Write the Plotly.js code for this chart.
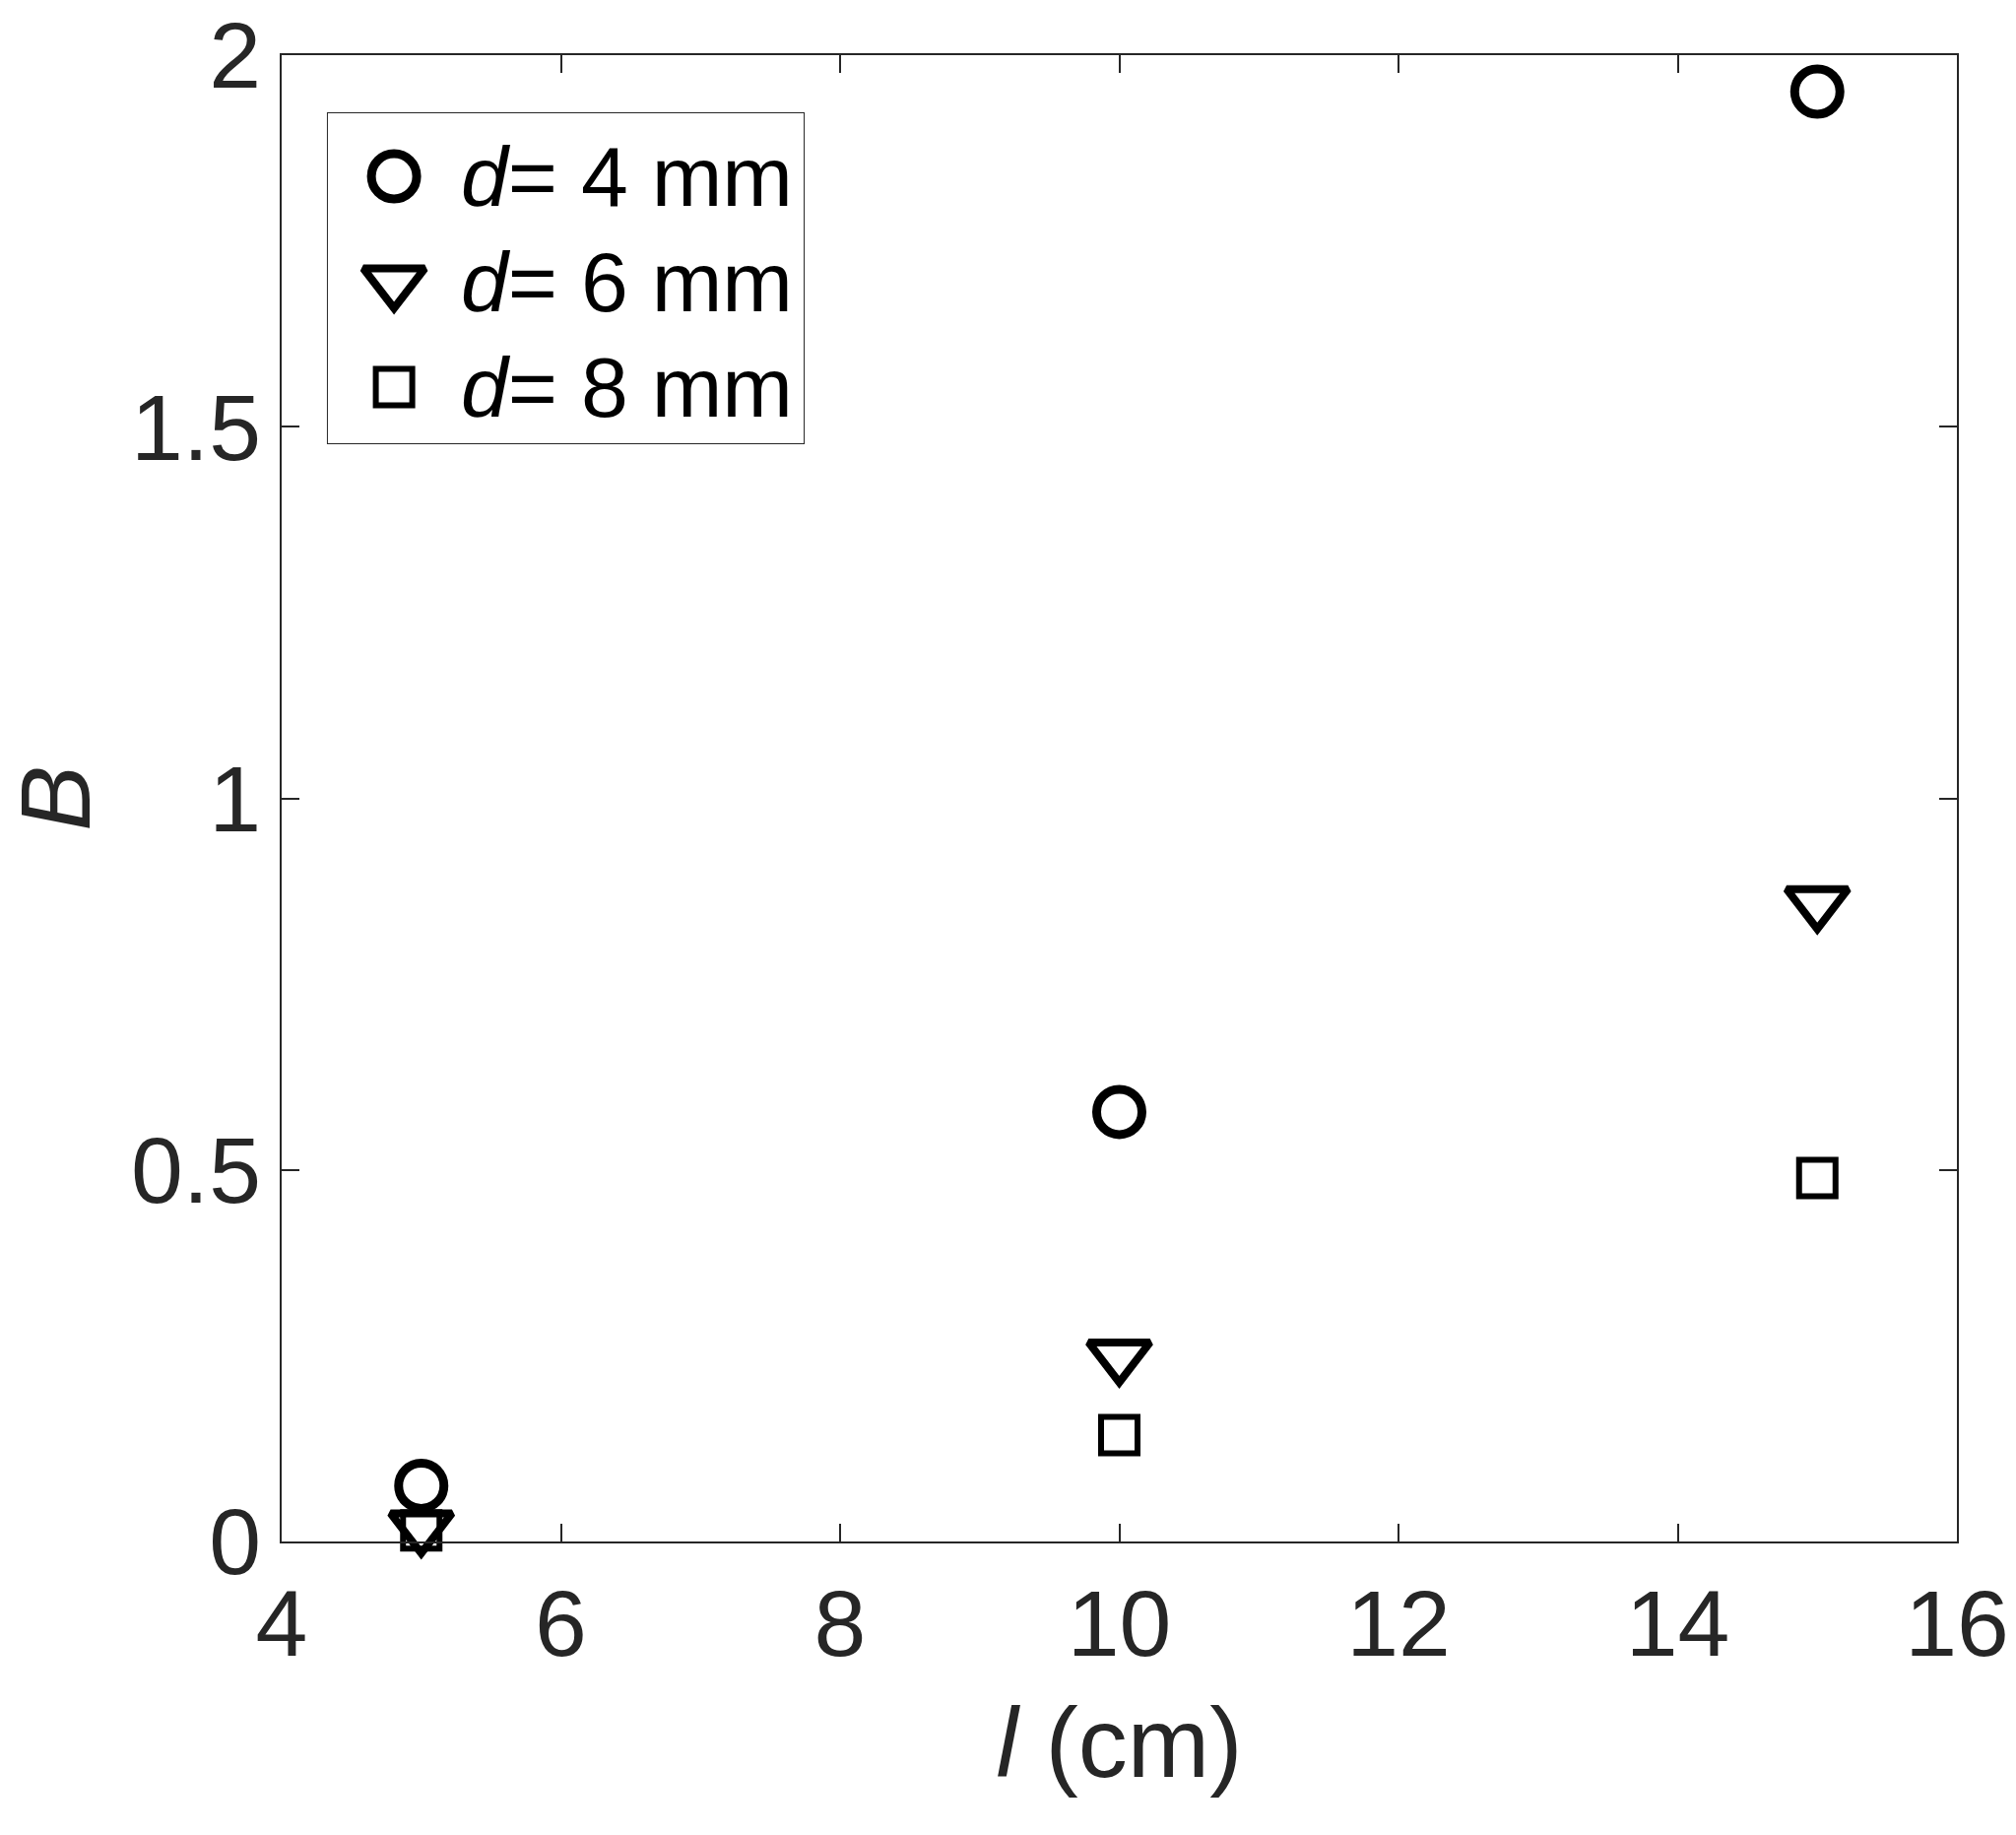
<!DOCTYPE html>
<html>
<head>
<meta charset="utf-8">
<script src="https://cdn.plot.ly/plotly-3.0.1.min.js"></script>
<style>
  html, body { margin: 0; padding: 0; background: #fff; }
  #plot { width: 2047px; height: 1863px; }
</style>
</head>
<body>
<div id="plot"></div>
<script>
// data
var lengths = [5, 10, 15];            // l (cm)
var bD4 = [0.075, 0.578, 1.951];      // d = 4 mm
var bD6 = [0.02, 0.25, 0.86];         // d = 6 mm
var bD8 = [0.015, 0.143, 0.489];      // d = 8 mm
var seriesNames = ["<i>d</i>= 4 mm", "<i>d</i>= 6 mm", "<i>d</i>= 8 mm"];
var seriesSymbols = ["circle-open", "triangle-down-open", "square-open"];
var xTicks = [4, 6, 8, 10, 12, 14, 16];
var yTicks = [0, 0.5, 1, 1.5, 2];

var ink = "#262626";
var font = "Liberation Sans, Arial, Helvetica, sans-serif";
var markerSizes = [46, 54, 37];
var markerLines = [9, 8, 6];

var ySets = [bD4, bD6, bD8];
var data = [];
for (var k = 0; k < ySets.length; k++) {
  data.push({
    x: lengths,
    y: ySets[k],
    type: "scatter",
    mode: "markers",
    name: seriesNames[k],
    showlegend: false,
    cliponaxis: false,
    marker: {
      symbol: seriesSymbols[k],
      size: markerSizes[k],
      color: "#000",
      line: { color: "#000", width: markerLines[k] }
    }
  });
}

// legend drawn on its own small axis so the symbols keep their real size
var legendRows = [0, 1, 2];
var annotations = [];
for (var j = 0; j < legendRows.length; j++) {
  data.push({
    x: [0.139],
    y: [legendRows[j]],
    xaxis: "x2",
    yaxis: "y2",
    type: "scatter",
    mode: "markers",
    showlegend: false,
    hoverinfo: "skip",
    cliponaxis: false,
    marker: {
      symbol: seriesSymbols[j],
      size: markerSizes[j],
      color: "#000",
      line: { color: "#000", width: markerLines[j] }
    }
  });
  annotations.push({
    xref: "x2", yref: "y2",
    x: 0.275, y: legendRows[j],
    xanchor: "left", yanchor: "middle",
    text: seriesNames[j],
    showarrow: false,
    font: { family: font, size: 86, color: "#000" }
  });
}

var layout = {
  width: 2047,
  height: 1863,
  paper_bgcolor: "#fff",
  plot_bgcolor: "#fff",
  showlegend: false,
  margin: { l: 286, r: 60, t: 56, b: 298 },
  font: { family: font, color: ink },
  xaxis: {
    range: [4, 16],
    tickvals: xTicks,
    ticktext: xTicks.map(String),
    ticks: "inside",
    ticklen: 18,
    tickwidth: 2,
    tickcolor: ink,
    showline: true,
    linecolor: ink,
    linewidth: 2,
    mirror: "ticks",
    showgrid: false,
    zeroline: false,
    tickfont: { family: font, size: 95, color: ink },
    title: { text: "<i>l</i> (cm)", font: { family: font, size: 100, color: ink }, standoff: 34 }
  },
  yaxis: {
    range: [0, 2],
    tickvals: yTicks,
    ticktext: yTicks.map(String),
    ticks: "inside",
    ticklen: 18,
    tickwidth: 2,
    tickcolor: ink,
    showline: true,
    linecolor: ink,
    linewidth: 2,
    mirror: "ticks",
    showgrid: false,
    zeroline: false,
    tickfont: { family: font, size: 95, color: ink },
    title: { text: "<i>B</i>", font: { family: font, size: 100, color: ink }, standoff: 44 }
  },
  xaxis2: {
    domain: [0.0276, 0.3116],
    range: [0, 1],
    anchor: "y2",
    visible: false,
    fixedrange: true
  },
  yaxis2: {
    domain: [0.7389, 0.9609],
    range: [2.533, -0.598],
    anchor: "x2",
    visible: false,
    fixedrange: true
  },
  shapes: [{
    type: "rect",
    xref: "x2 domain", yref: "y2 domain",
    x0: 0, x1: 1, y0: 0, y1: 1,
    line: { color: ink, width: 2 },
    fillcolor: "rgba(0,0,0,0)",
    layer: "below"
  }],
  annotations: annotations
};

Plotly.newPlot("plot", data, layout, { staticPlot: true, displayModeBar: false });
</script>
</body>
</html>
